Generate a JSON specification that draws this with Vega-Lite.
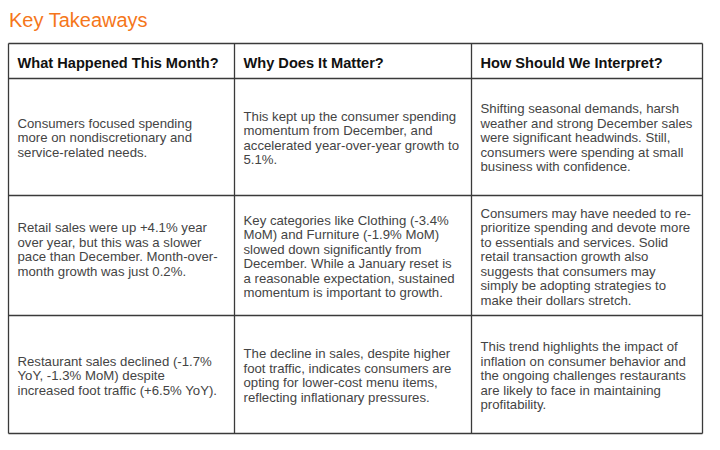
{
  "$schema": "https://vega.github.io/schema/vega-lite/v6.json",
  "width": 720,
  "height": 450,
  "autosize": {"type": "none"},
  "padding": 0,
  "background": "white",
  "config": {"view": {"stroke": null}, "font": "Liberation Sans"},
  "title": {
    "text": "Key Takeaways",
    "anchor": "start",
    "frame": "group",
    "orient": "top",
    "baseline": "alphabetic",
    "offset": -47,
    "dx": 9,
    "fontSize": 20,
    "fontWeight": "normal",
    "font": "Liberation Sans",
    "color": "#F5761A"
  },
  "datasets": {
    "colEdges": [{"edge": 0}, {"edge": 1}, {"edge": 2}, {"edge": 3}],
    "rowEdges": [{"edge": 0}, {"edge": 1}, {"edge": 2}, {"edge": 3}, {"edge": 4}],
    "cells": [
      {"row": 0, "col": 0, "text": "What Happened This Month?"},
      {"row": 0, "col": 1, "text": "Why Does It Matter?"},
      {"row": 0, "col": 2, "text": "How Should We Interpret?"},
      {"row": 1, "col": 0, "text": "Consumers focused spending\nmore on nondiscretionary and\nservice-related needs."},
      {"row": 1, "col": 1, "text": "This kept up the consumer spending\nmomentum from December, and\naccelerated year-over-year growth to\n5.1%."},
      {"row": 1, "col": 2, "text": "Shifting seasonal demands, harsh\nweather and strong December sales\nwere significant headwinds. Still,\nconsumers were spending at small\nbusiness with confidence."},
      {"row": 2, "col": 0, "text": "Retail sales were up +4.1% year\nover year, but this was a slower\npace than December. Month-over-\nmonth growth was just 0.2%.\n "},
      {"row": 2, "col": 1, "text": "Key categories like Clothing (-3.4%\nMoM) and Furniture (-1.9% MoM)\nslowed down significantly from\nDecember. While a January reset is\na reasonable expectation, sustained\nmomentum is important to growth."},
      {"row": 2, "col": 2, "text": "Consumers may have needed to re-\nprioritize spending and devote more\nto essentials and services. Solid\nretail transaction growth also\nsuggests that consumers may\nsimply be adopting strategies to\nmake their dollars stretch."},
      {"row": 3, "col": 0, "text": "Restaurant sales declined (-1.7%\nYoY, -1.3% MoM) despite\nincreased foot traffic (+6.5% YoY)."},
      {"row": 3, "col": 1, "text": "The decline in sales, despite higher\nfoot traffic, indicates consumers are\nopting for lower-cost menu items,\nreflecting inflationary pressures."},
      {"row": 3, "col": 2, "text": "This trend highlights the impact of\ninflation on consumer behavior and\nthe ongoing challenges restaurants\nare likely to face in maintaining\nprofitability."}
    ]
  },
  "resolve": {"scale": {"y": "independent"}},
  "layer": [
    {
      "data": {"name": "colEdges"},
      "mark": {"type": "rule", "color": "#3a3a3a", "strokeWidth": 1.3},
      "encoding": {
        "x": {"field": "edge", "type": "quantitative", "axis": null,
              "scale": {"domain": [0, 1, 2, 3], "range": [8.5, 234.5, 471.5, 702.5], "zero": false, "nice": false}},
        "y": {"datum": 0, "type": "quantitative", "axis": null,
              "scale": {"domain": [0, 1, 2, 3, 4], "range": [43.5, 78.5, 195.5, 315.5, 433.5], "zero": false, "nice": false}},
        "y2": {"datum": 4}
      }
    },
    {
      "data": {"name": "rowEdges"},
      "mark": {"type": "rule", "color": "#3a3a3a", "strokeWidth": 1.3},
      "encoding": {
        "y": {"field": "edge", "type": "quantitative", "axis": null,
              "scale": {"domain": [0, 1, 2, 3, 4], "range": [43.5, 78.5, 195.5, 315.5, 433.5], "zero": false, "nice": false}},
        "x": {"datum": 0, "type": "quantitative"},
        "x2": {"datum": 3}
      }
    },
    {
      "data": {"name": "cells"},
      "transform": [{"filter": "datum.row == 0"}],
      "mark": {"type": "text", "align": "left", "baseline": "alphabetic", "dx": 9, "dy": 6.7, "fontSize": 14.6, "fontWeight": "bold", "color": "#111111", "font": "Liberation Sans"},
      "encoding": {
        "x": {"field": "col", "type": "quantitative"},
        "y": {"field": "row", "type": "quantitative", "axis": null,
              "scale": {"domain": [0, 1, 2, 3], "range": [61, 137.25, 256, 375], "zero": false, "nice": false}},
        "text": {"field": "text"}
      }
    },
    {
      "data": {"name": "cells"},
      "transform": [
        {"filter": "datum.row > 0"},
        {"calculate": "length(split(datum.text, '\\n'))", "as": "lines"}
      ],
      "encoding": {
        "x": {"field": "col", "type": "quantitative"},
        "y": {"field": "row", "type": "quantitative", "axis": null,
              "scale": {"domain": [0, 1, 2, 3], "range": [61, 137.25, 256, 375], "zero": false, "nice": false}},
        "text": {"field": "text"}
      },
      "layer": [
        {"transform": [{"filter": "datum.lines == 3"}],
         "mark": {"type": "text", "align": "left", "baseline": "alphabetic", "dx": 9, "dy": -9.5, "fontSize": 13.2, "lineHeight": 14.5, "lineBreak": "\n", "color": "#444444", "font": "Liberation Sans"}},
        {"transform": [{"filter": "datum.lines == 4"}],
         "mark": {"type": "text", "align": "left", "baseline": "alphabetic", "dx": 9, "dy": -16.75, "fontSize": 13.2, "lineHeight": 14.5, "lineBreak": "\n", "color": "#444444", "font": "Liberation Sans"}},
        {"transform": [{"filter": "datum.lines == 5"}],
         "mark": {"type": "text", "align": "left", "baseline": "alphabetic", "dx": 9, "dy": -24, "fontSize": 13.2, "lineHeight": 14.5, "lineBreak": "\n", "color": "#444444", "font": "Liberation Sans"}},
        {"transform": [{"filter": "datum.lines == 6"}],
         "mark": {"type": "text", "align": "left", "baseline": "alphabetic", "dx": 9, "dy": -31.25, "fontSize": 13.2, "lineHeight": 14.5, "lineBreak": "\n", "color": "#444444", "font": "Liberation Sans"}},
        {"transform": [{"filter": "datum.lines == 7"}],
         "mark": {"type": "text", "align": "left", "baseline": "alphabetic", "dx": 9, "dy": -38.5, "fontSize": 13.2, "lineHeight": 14.5, "lineBreak": "\n", "color": "#444444", "font": "Liberation Sans"}}
      ]
    }
  ]
}
